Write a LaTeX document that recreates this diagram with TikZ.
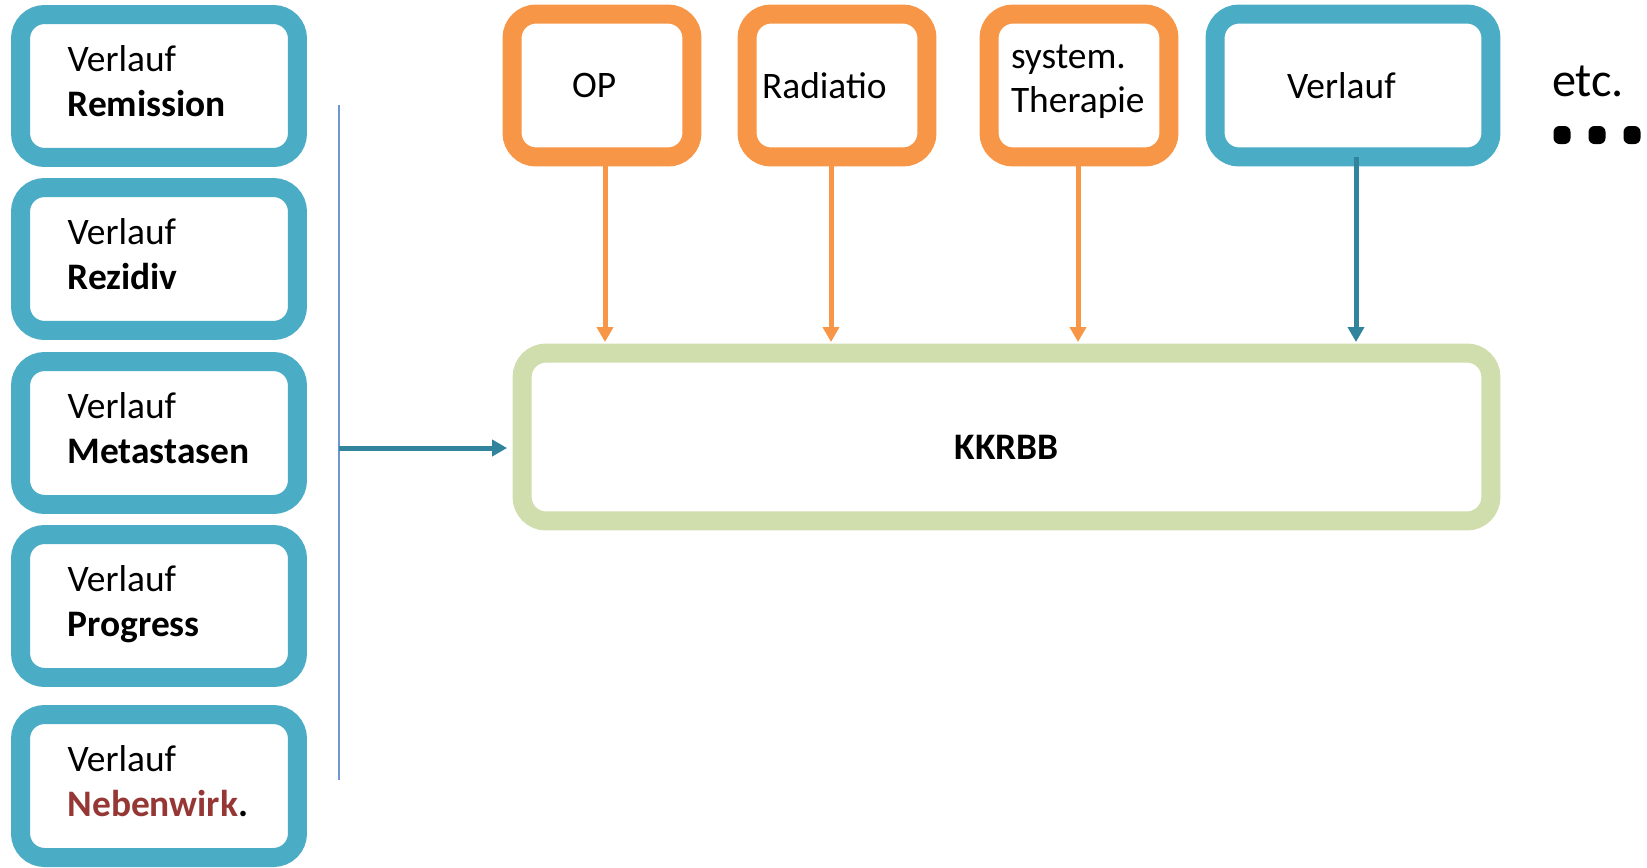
\documentclass[tikz,border=0pt]{standalone}
\usepackage{fontspec}
\setmainfont{Carlito}
\usepackage{tikz}
\usetikzlibrary{arrows.meta, calc}

\definecolor{kkblau}{HTML}{4BACC6}
\definecolor{kkorange}{HTML}{F79646}
\definecolor{kkgruen}{HTML}{CFDEAC}
\definecolor{kkteal}{HTML}{31849B}
\definecolor{kklinie}{HTML}{6F96D0}
\definecolor{kkrot}{HTML}{953735}

\begin{document}
\begin{tikzpicture}[x=0.02cm, y=-0.02cm, >={Triangle[length=0.3cm, width=0.32cm]},
    schrift/.style={font=\fontsize{21.3}{25.5}\selectfont},
    kasten/.style={schrift, draw, fill=white, line width=0.38cm, outer sep=0pt,
        rounded corners=0.48cm, minimum height=2.86cm, align=left},
    verlaufbox/.style={kasten, draw=kkblau, minimum width=5.54cm,
        text width=3.66cm, inner xsep=0.94cm, text depth=1.11cm},
    therapiebox/.style={kasten, draw=kkorange, minimum width=3.6cm},
    pfeil/.style={->, line width=0.1cm}]

    \useasboundingbox (0,0) rectangle (1647,867);

    % Verlauf-Kaesten links
    \foreach \y/\nm/\txt in {86/rem/Remission, 259/rez/Rezidiv, 433/met/Metastasen,
        606/pro/Progress, 786/neb/{\textcolor{kkrot}{Nebenwirk}.}}{
        \node[verlaufbox] (v\nm) at (159,\y) {Verlauf\\\textbf{\txt}};
    }

    % Therapie-Kaesten oben
    \node[therapiebox, inner xsep=1.2cm, text width=1.2cm] (op) at (602,85.5) {OP};
    \node[therapiebox, inner xsep=0.3cm, text width=3.0cm] (rad) at (837,85.5) {Radiatio};
    \node[therapiebox, inner xsep=0.44cm, text width=2.72cm, text depth=1.17cm]
        (sys) at (1079,85.5) {system.\\Therapie};
    \node[kasten, draw=kkblau, minimum width=5.52cm, inner xsep=1.44cm, text width=2.64cm]
        (verl) at (1353,85.5) {Verlauf};

    % Register
    \node[kasten, draw=kkgruen, minimum width=19.38cm, minimum height=3.36cm,
        align=center, text height=0.91cm] (kkrbb) at (1006.5,437) {\textbf{KKRBB}};

    % etc.
    \node[font=\fontsize{27.5}{30}\selectfont] (etc) at (1588,81) {etc.};
    \foreach \x in {1562,1597,1632}{
        \fill[rounded corners=0.12cm] (\x-8.5,126) rectangle (\x+8.5,144);
    }

    % Sammellinie links
    \coordinate (ltop) at (339,105);
    \coordinate (lbot) at (339,780);
    \coordinate (lmitte) at (339,448);
    \draw[kklinie, line width=0.04cm] (ltop) -- (lbot);
    \draw[pfeil, kkteal, shorten >=0.3cm] (lmitte) -- (lmitte -| kkrbb.west);

    % Pfeile von oben
    \foreach \n/\dx in {op/3, rad/-6, sys/-1}{
        \draw[pfeil, kkorange, shorten >=0.22cm]
            ($(\n.south)+(\dx,0)$) -- ($(\n.south |- kkrbb.north)+(\dx,0)$);
    }
    \draw[pfeil, kkteal, shorten >=0.22cm]
        ($(verl.south)+(3,0)$) -- ($(verl.south |- kkrbb.north)+(3,0)$);
\end{tikzpicture}
\end{document}
